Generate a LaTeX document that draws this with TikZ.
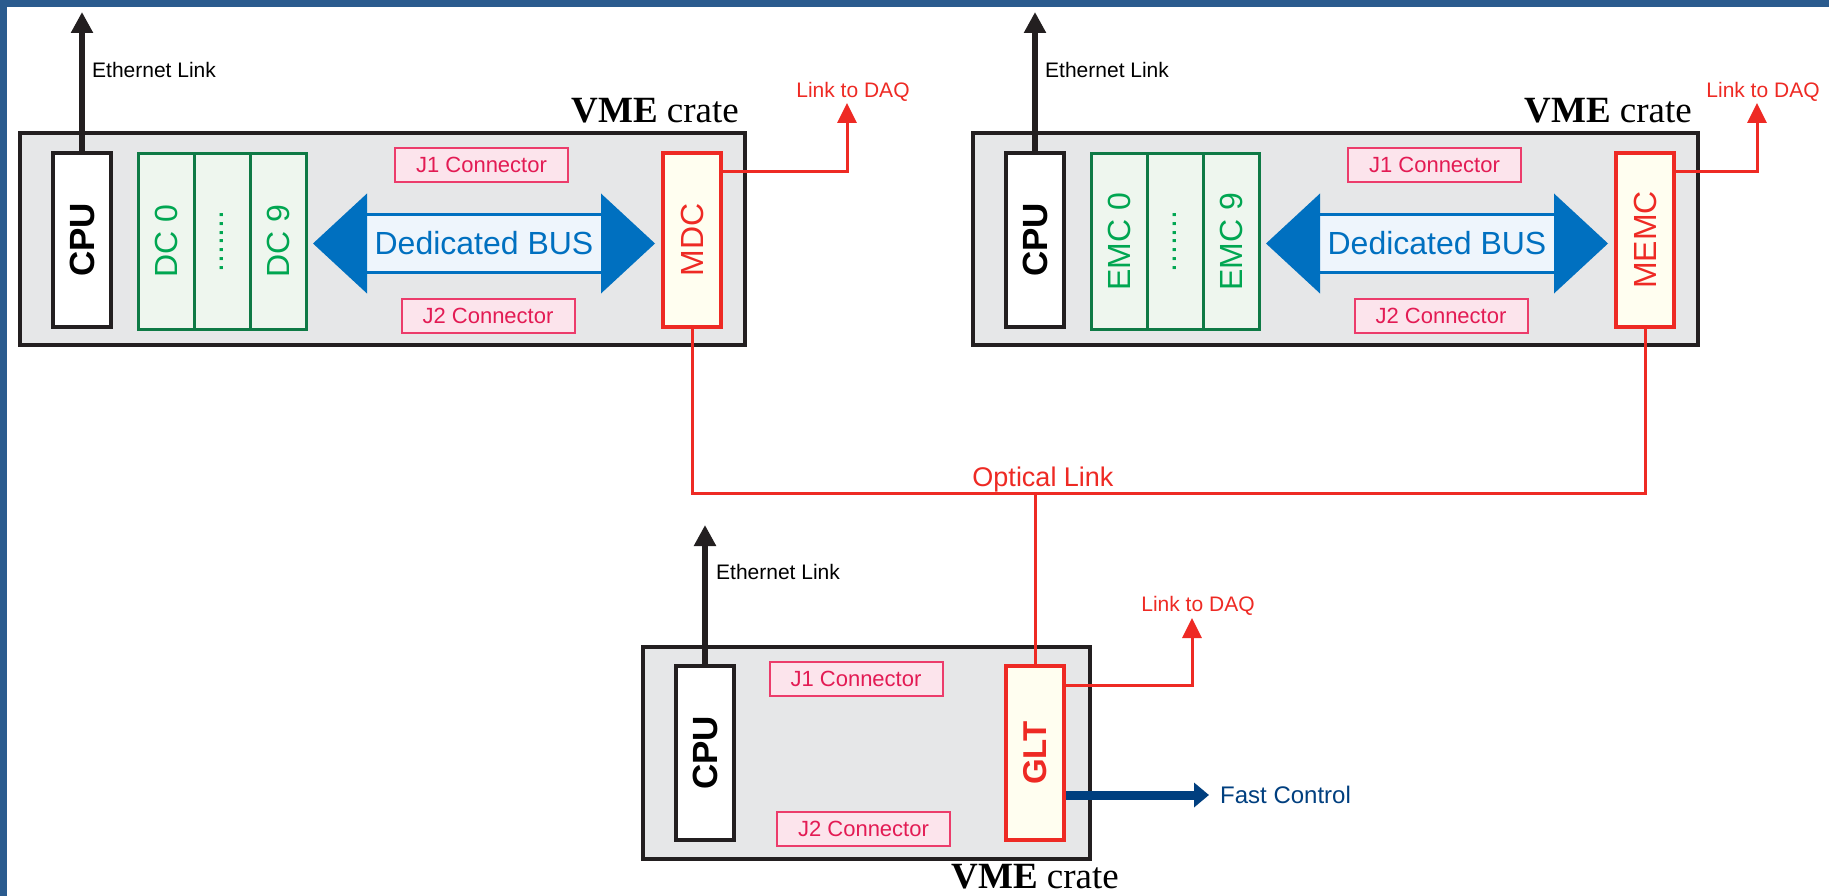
\documentclass[tikz,border=0pt]{standalone}
\usepackage{fontspec}
\setmainfont{Liberation Sans}
\newfontfamily\crateserif{Liberation Serif}
\usetikzlibrary{arrows.meta,positioning}
\definecolor{frameblue}{HTML}{2A5B8E}
\definecolor{crategray}{HTML}{E6E7E8}
\definecolor{crateline}{HTML}{231F20}
\definecolor{modline}{HTML}{0E7A45}
\definecolor{modtext}{HTML}{00A651}
\definecolor{modfill}{HTML}{EEF6EE}
\definecolor{conline}{HTML}{EC3C6B}
\definecolor{confill}{HTML}{FCE4EC}
\definecolor{context}{HTML}{E31B54}
\definecolor{linkred}{HTML}{EE2A24}
\definecolor{rofill}{HTML}{FFFEF0}
\definecolor{busblue}{HTML}{0070C0}
\definecolor{busfill}{HTML}{EEF5FC}
\definecolor{fastblue}{HTML}{003F7F}
\tikzset{
  crate/.style={draw=crateline,line width=3.5pt,fill=crategray,inner sep=0pt},
  cpubox/.style={draw=crateline,line width=4pt,fill=white,minimum width=58pt,minimum height=174pt,inner sep=0pt,font=\fontsize{35}{40}\selectfont\bfseries},
  modbox/.style={draw=modline,line width=3pt,fill=modfill,text=modtext,minimum width=56pt,minimum height=175pt,inner sep=0pt,outer sep=0pt,font=\fontsize{32}{36}\selectfont},
  conbox/.style={draw=conline,line width=2pt,fill=confill,text=context,minimum width=173pt,minimum height=34pt,inner sep=0pt,font=\fontsize{22}{26}\selectfont},
  robox/.style={draw=linkred,line width=4pt,fill=rofill,text=linkred,minimum width=58pt,minimum height=174pt,inner sep=0pt,font=\fontsize{32}{36}\selectfont},
  busbar/.style={draw=busblue,line width=3pt,fill=busfill,text=busblue,minimum width=238pt,minimum height=57pt,inner sep=0pt,outer sep=0pt,font=\fontsize{32}{36}\selectfont},
  ethlink/.style={draw=crateline,line width=6pt,-{Triangle[width=21pt,length=21pt]}},
  daqlink/.style={draw=linkred,line width=3pt,-{Triangle[width=19pt,length=20pt]}},
  optlink/.style={draw=linkred,line width=3pt},
  fastlink/.style={draw=fastblue,line width=9pt,-{Triangle[width=24pt,length=15pt]}},
  cratelabel/.style={inner sep=0pt,font=\crateserif\fontsize{37}{40}\selectfont},
  smalllabel/.style={inner sep=0pt,font=\fontsize{21}{24}\selectfont}
}
\begin{document}
\begin{tikzpicture}[x=1pt,y=-1pt]
\useasboundingbox (0,0) rectangle (1829,896);
\fill[white] (0,0) rectangle (1829,896);
\fill[frameblue] (0,0) rectangle (1829,7);
\fill[frameblue] (0,0) rectangle (7,896);
% upper crate: #1 prefix, #2 modules, #3 readout, #4 DAQ arrow x
\newcommand{\topcrate}[4]{%
\node[crate,minimum width=725pt,minimum height=212pt] (#1crate) at (382.5,239) {};
\node[cratelabel,anchor=base east] at (739,123) {{\bfseries VME} crate};
\node[cpubox] (#1cpu) at (82,240) {\rotatebox{90}{CPU}};
\coordinate (#1eth) at (82,12);
\draw[ethlink] (#1cpu.north) -- (#1eth);
\node[smalllabel,anchor=west] at (92,70) {Ethernet Link};
\node[modbox] (#1first) at (166,241.5) {\rotatebox{90}{#2 0}};
\node[modbox,right=0pt of #1first] (#1dots) {\rotatebox{90}{.......}};
\node[modbox,right=0pt of #1dots] (#1last) {\rotatebox{90}{#2 9}};
\node[busbar] (#1bus) at (484,243.5) {Dedicated BUS};
\fill[busblue] (#1bus.west) ++(-52,0) -- ++(54,-50) -- ++(0,100) -- cycle;
\fill[busblue] (#1bus.east) ++(52,0) -- ++(-54,-50) -- ++(0,100) -- cycle;
\node[conbox] (#1jone) at (481.5,165) {J1 Connector};
\node[conbox] (#1jtwo) at (488,315.5) {J2 Connector};
\node[robox] (#1ro) at (692,240) {\rotatebox{90}{#3}};
\coordinate (#1daq) at (#4,103);
\draw[daqlink] (#1ro.north east) ++(0,21) -| (#1daq);
\node[smalllabel,text=linkred,anchor=base] at (#4+6,98) {Link to DAQ};}
\begin{scope}\topcrate{L}{DC}{MDC}{847}\end{scope}
\begin{scope}[xshift=953pt]\topcrate{R}{EMC}{MEMC}{804}\end{scope}
% trigger crate
\node[crate,minimum width=447pt,minimum height=212pt] (Bcrate) at (866.5,753) {};
\node[cratelabel,anchor=base east] at (1119,888) {{\bfseries VME} crate};
\node[cpubox] (Bcpu) at (705,753) {\rotatebox{90}{CPU}};
\coordinate (Beth) at (705,525);
\draw[ethlink] (Bcpu.north) -- (Beth);
\node[smalllabel,anchor=west] at (716,572) {Ethernet Link};
\node[conbox] (Bjone) at (856,678.5) {J1 Connector};
\node[conbox] (Bjtwo) at (863.5,828.5) {J2 Connector};
\node[robox,font=\fontsize{33}{36}\selectfont\bfseries] (glt) at (1035,753) {\rotatebox{90}{GLT}};
\coordinate (Bdaq) at (1192,618);
\draw[daqlink] (glt.north east) ++(0,21) -| (Bdaq);
\node[smalllabel,text=linkred,anchor=base] at (1198,611) {Link to DAQ};
\coordinate (fast) at (1209,795);
\draw[fastlink] (glt.east |- fast) -- (fast);
\node[smalllabel,text=fastblue,font=\fontsize{24}{28}\selectfont,anchor=west] at (1220,795) {Fast Control};
% optical ring
\coordinate (opt) at (1033,493);
\draw[optlink] (Lro.south) -- (Lro.south |- opt) -- (Rro.south |- opt) -- (Rro.south);
\draw[optlink] (glt.north) -- (glt.north |- opt);
\node[text=linkred,inner sep=0pt,font=\fontsize{27}{30}\selectfont,anchor=base] at (1043,486) {Optical Link};
\end{tikzpicture}
\end{document}
